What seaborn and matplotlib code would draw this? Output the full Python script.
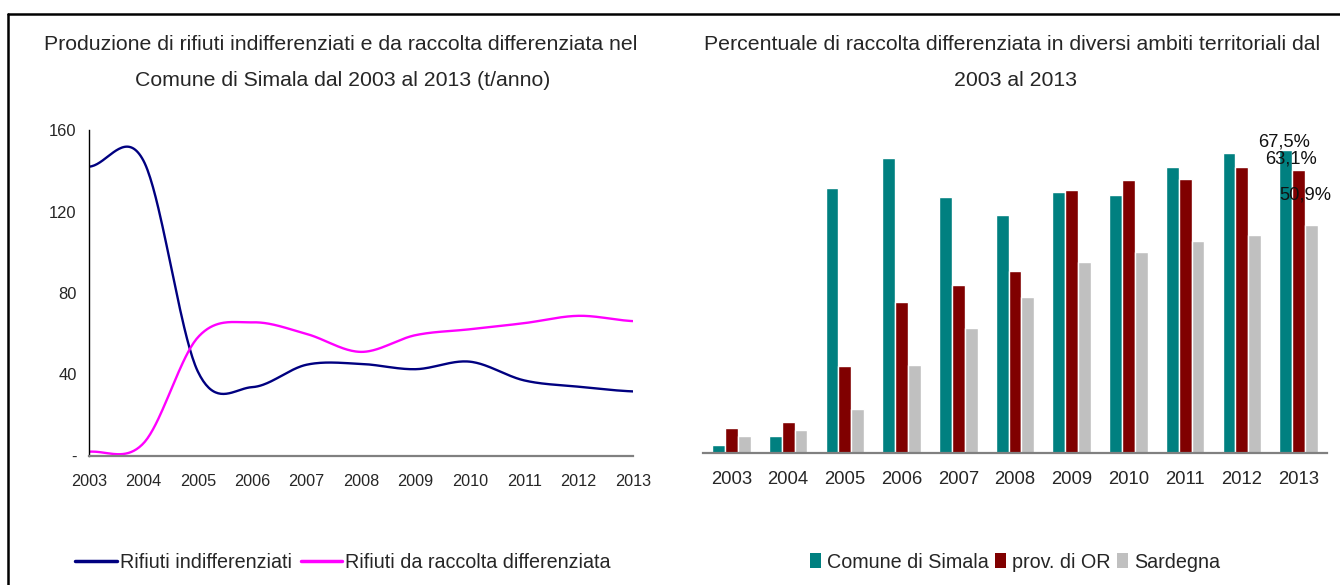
import numpy as np
import pandas as pd
import matplotlib
matplotlib.use("Agg")
import matplotlib.pyplot as plt
import seaborn as sns
from matplotlib.lines import Line2D
from matplotlib.patches import Patch

# ---------------- data ----------------
years = [2003, 2004, 2005, 2006, 2007, 2008, 2009, 2010, 2011, 2012, 2013]
rifiuti_indiff = [142.0, 145.0, 41.5, 33.8, 44.8, 45.2, 42.6, 46.3, 37.1, 34.0, 31.7]
rifiuti_diff = [2.1, 6.2, 58.2, 65.6, 59.9, 51.1, 59.3, 62.2, 65.2, 68.8, 66.2]
line_series = ["Rifiuti indifferenziati", "Rifiuti da raccolta differenziata"]
line_colors = ["#000080", "#FF00FF"]
y_ticks_left = [0, 40, 80, 120, 160]
y_ticklabels_left = ["-", "40", "80", "120", "160"]

year_labels = [str(y) for y in years]
comune_simala = [1.7, 3.7, 59.1, 65.8, 57.1, 53.1, 58.2, 57.4, 63.8, 66.9, 67.5]
prov_or = [5.5, 6.8, 19.4, 33.6, 37.4, 40.5, 58.7, 60.9, 61.1, 63.8, 63.1]
sardegna = [3.7, 5.2, 9.9, 19.7, 27.9, 34.7, 42.5, 44.9, 47.2, 48.5, 50.9]
bar_series = ["Comune di Simala", "prov. di OR", "Sardegna"]
bar_colors = ["#008080", "#800000", "#C0C0C0"]
last_labels = ["67,5%", "63,1%", "50,9%"]

title_left = ["Produzione di rifiuti indifferenziati e da raccolta differenziata nel",
              "Comune di Simala dal 2003 al 2013 (t/anno)"]
title_right = ["Percentuale di raccolta differenziata in diversi ambiti territoriali dal",
               "2003 al 2013"]

# ---------------- style ----------------
sns.set_style("white")
plt.rcParams["font.family"] = ["Liberation Sans", "DejaVu Sans"]

W, H = 1340, 585
fig = plt.figure(figsize=(W / 100, H / 100), dpi=100)

def fx(px):
    return px / W

def fy(py):
    return 1 - py / H

# ---------------- smooth curve (Excel-like smoothed line) ----------------
def smooth(xv, yv, n=40):
    xv = np.asarray(xv, float)
    yv = np.asarray(yv, float)
    m = np.zeros_like(yv)
    m[1:-1] = (yv[2:] - yv[:-2]) / 2
    m[0] = (yv[1] - yv[0]) / 2
    m[-1] = (yv[-1] - yv[-2]) / 2
    xs, ys = [], []
    for i in range(len(xv) - 1):
        t = np.linspace(0, 1, n, endpoint=False)
        h00 = 2 * t**3 - 3 * t**2 + 1
        h10 = t**3 - 2 * t**2 + t
        h01 = -2 * t**3 + 3 * t**2
        h11 = t**3 - t**2
        ys.append(h00 * yv[i] + h10 * m[i] + h01 * yv[i + 1] + h11 * m[i + 1])
        xs.append(xv[i] + t * (xv[i + 1] - xv[i]))
    xs.append([xv[-1]])
    ys.append([yv[-1]])
    return np.concatenate(xs), np.concatenate(ys)

frames = []
for name, vals in zip(line_series, [rifiuti_indiff, rifiuti_diff]):
    sx, sy = smooth(years, vals)
    frames.append(pd.DataFrame({"anno": sx, "t": sy, "serie": name}))
df_lines = pd.concat(frames, ignore_index=True)

# ---------------- left chart ----------------
axL = fig.add_axes([fx(89), fy(456), fx(633) - fx(89), fy(130) - fy(456)])
sns.lineplot(data=df_lines, x="anno", y="t", hue="serie", hue_order=line_series,
             palette=line_colors, ax=axL, linewidth=1.7, sort=False,
             estimator=None, legend=False)
axL.set_xlim(years[0], years[-1])
axL.set_ylim(0, 160)
axL.set_xticks(years)
axL.set_xticklabels(year_labels, fontsize=11.7)
axL.set_yticks(y_ticks_left)
axL.set_yticklabels(y_ticklabels_left, fontsize=11.9)
axL.set_xlabel("")
axL.set_ylabel("")
for s in ["top", "right"]:
    axL.spines[s].set_visible(False)
axL.spines["left"].set_color("black")
axL.spines["left"].set_linewidth(1.0)
axL.spines["bottom"].set_color("#808080")
axL.spines["bottom"].set_linewidth(1.6)
axL.tick_params(axis="y", direction="out", length=5, width=1, color="black", pad=4)
axL.tick_params(axis="x", direction="out", length=5, width=1, color="#808080", pad=8)

# ---------------- right chart ----------------
rows = []
for name, vals in zip(bar_series, [comune_simala, prov_or, sardegna]):
    for y, v in zip(year_labels, vals):
        rows.append({"anno": y, "perc": v, "ambito": name})
df_bars = pd.DataFrame(rows)

axR = fig.add_axes([fx(703), fy(453), fx(1327) - fx(703), fy(130) - fy(453)])
sns.barplot(data=df_bars, x="anno", y="perc", hue="ambito", hue_order=bar_series,
            order=year_labels, palette=bar_colors, saturation=1, width=0.68,
            gap=0, ax=axR, legend=False, errorbar=None)
axR.set_xlim(-0.5, len(years) - 0.5)
axR.set_ylim(0, 72)
axR.set_xlabel("")
axR.set_ylabel("")
axR.set_yticks([])
for s in ["top", "right", "left"]:
    axR.spines[s].set_visible(False)
axR.spines["bottom"].set_color("#808080")
axR.spines["bottom"].set_linewidth(1.6)
axR.set_xticks(np.arange(len(years)))
axR.set_xticklabels(year_labels, fontsize=13.3)
axR.set_xticks(np.arange(len(years) + 1) - 0.5, minor=True)
axR.tick_params(axis="x", which="major", length=0, pad=13)
axR.tick_params(axis="x", which="minor", direction="out", length=5, width=1, color="#404040")

# data labels on last group
offsets = [(-2, 8), (-8, 11), (-6, 30)]
for cont, lab, off in zip(axR.containers, last_labels, offsets):
    bar = cont[-1]
    xc = bar.get_x() + bar.get_width() / 2
    axR.annotate(lab, xy=(xc, bar.get_height()), xytext=off, textcoords="offset pixels",
                 ha="center", va="center", fontsize=13.2, color="#111111")

# ---------------- titles ----------------
fig.text(fx(341), fy(45), title_left[0], ha="center", va="center", fontsize=15.3)
fig.text(fx(343), fy(80), title_left[1], ha="center", va="center", fontsize=15.3)
fig.text(fx(1012.5), fy(45), title_right[0], ha="center", va="center", fontsize=15.3)
fig.text(fx(1015), fy(80), title_right[1], ha="center", va="center", fontsize=15.3)

# ---------------- legends ----------------
lh = [Line2D([0], [0], color=c, lw=2.5) for c in line_colors]
fig.legend(lh, line_series, loc="center", bbox_to_anchor=(fx(343), fy(562)), ncol=2,
           frameon=False, fontsize=14.2, handlelength=2.1, handletextpad=0.15,
           columnspacing=0.45, borderpad=0)
bh = [Patch(facecolor=c, edgecolor="none") for c in bar_colors]
fig.legend(bh, bar_series, loc="center", bbox_to_anchor=(fx(1015), fy(562)), ncol=3,
           frameon=False, fontsize=14.2, handlelength=0.55, handleheight=0.8,
           handletextpad=0.3, columnspacing=0.35, borderpad=0)

# ---------------- outer frame ----------------
fig.add_artist(Line2D([fx(8), fx(8)], [0, fy(14)], transform=fig.transFigure,
                      color="black", lw=1.8))
fig.add_artist(Line2D([fx(8), 1], [fy(14), fy(14)], transform=fig.transFigure,
                      color="black", lw=1.8))

fig.savefig("out.png", dpi=100)
